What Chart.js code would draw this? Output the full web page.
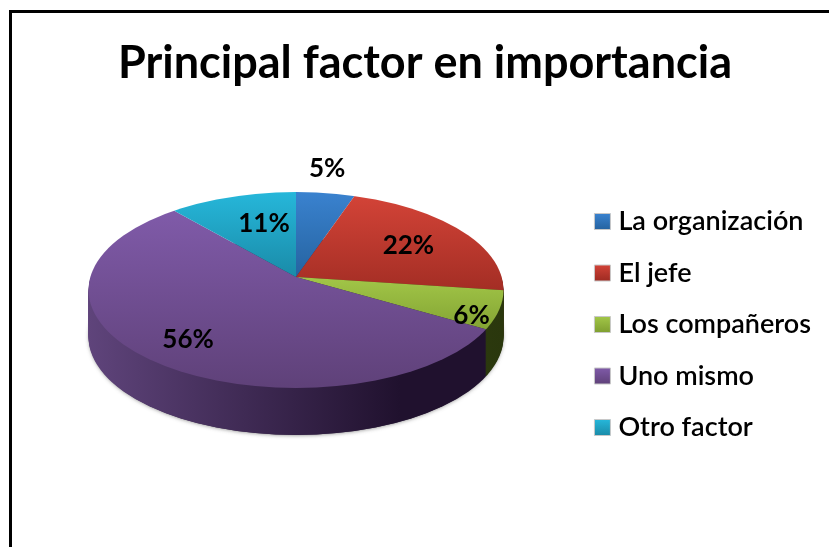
<!DOCTYPE html>
<html>
<head>
<meta charset="utf-8">
<title>Principal factor en importancia</title>
<script src="https://cdn.jsdelivr.net/npm/chart.js@4"></script>
<style>
	html, body { margin: 0; padding: 0; background: #fff; overflow: hidden; }
	#wrap { position: relative; width: 829px; height: 547px; }
	#frame { position: absolute; left: 9px; top: 10px; right: 0; bottom: 0; border-left: 3px solid #000; border-top: 3px solid #000; }
	canvas { position: absolute; left: 0; top: 0; }
</style>
</head>
<body>
<div id="wrap">
	<div id="frame"></div>
	<canvas id="chart-1" width="829" height="547"></canvas>
</div>
<script>
/* ----- Data ----- */

const chartTitle = 'Principal factor en importancia';
const categories = ['La organización', 'El jefe', 'Los compañeros', 'Uno mismo', 'Otro factor'];
const shares = [5, 22, 6, 56, 11];

/* ----- Styles ----- */

const topLight = ['#3a82cf', '#d24337', '#a2c648', '#7f5aa8', '#26b7da'];
const topDark = ['#2563a0', '#9e2b22', '#7f9f30', '#5f4179', '#1a8ba8'];
const sideLight = ['#1d4a78', '#6e1e18', '#45561a', '#5f447b', '#126478'];
const sideDark = ['#143352', '#4c1410', '#2a370d', '#20112e', '#0c4452'];
const labelRadius = [242, 132, 192, 166, 122];
const labelAngleShift = [-0.028, 0.014, 0.103, 0.017, 0.08];

// 3D look of the pie, the library's arcs get squashed onto this
const pie = {
	x: 296, y: 277,        // where the slices meet
	rimX: 296, rimY: 290,  // centre of the outer rim
	rimW: 207.5, rimH: 98,
	depth: 47,
	size: 280,
	squashTop: 0.45,
	squashBottom: 0.5
};

/* ----- 3D Pie Plugin ----- */

// Top part or bottom part of the rim, moved down by drop
const clipRim = (ctx, drop, part) => {
	const splitY = pie.y + drop;
	ctx.beginPath();
	if (part === 'top') ctx.rect(0, 0, 829, splitY);
	else ctx.rect(0, splitY, 829, 547 - splitY);
	ctx.clip();
	ctx.beginPath();
	ctx.ellipse(pie.rimX, pie.rimY + drop, pie.rimW, pie.rimH, 0, 0, Math.PI * 2);
	ctx.clip();
};

const drawArcs = (ctx, arcs, drop, part, fillFor) => {
	const first = arcs[0];
	const scaleX = pie.size / first.outerRadius;
	const squash = part === 'top' ? pie.squashTop : pie.squashBottom;
	const scaleY = scaleX * squash;
	ctx.save();
	clipRim(ctx, drop, part);
	ctx.translate(pie.x, pie.y + drop);
	ctx.scale(scaleX, scaleY);
	ctx.translate(-first.x, -first.y);
	// gradients follow the current transform, so work out their ends in arc space
	const toArcX = x => first.x + (x - pie.x) / scaleX;
	const toArcY = y => first.y + (y - pie.y - drop) / scaleY;
	arcs.forEach((arc, index) => {
		const saved = arc.options;
		const opts = Object.create(saved);
		opts.backgroundColor = fillFor(ctx, index, toArcX, toArcY);
		opts.borderWidth = 0;
		arc.options = opts;
		arc.draw(ctx);
		arc.options = saved;
	});
	ctx.restore();
};

// Vertical extent of a slice on the top face
const sliceExtent = arc => {
	let low = pie.y;
	let high = pie.y;
	for (let i = 0; i <= 24; i++) {
		const angle = arc.startAngle + (arc.endAngle - arc.startAngle) * i / 24;
		const sin = Math.sin(angle);
		const y = pie.rimY + sin * pie.rimH;
		low = Math.min(low, y);
		high = Math.max(high, y);
	}
	return [low, high];
};

const pie3d = {
	id: 'pie3d',
	beforeDraw(chart) {
		// legend swatches get the same top to bottom shading
		chart.legend.legendItems.forEach((item, index) => {
			const box = chart.legend.legendHitBoxes[index];
			const middle = box.top + box.height / 2;
			const grad = chart.ctx.createLinearGradient(0, middle - 8, 0, middle + 8);
			grad.addColorStop(0, topLight[index]);
			grad.addColorStop(1, topDark[index]);
			item.fillStyle = grad;
			item.strokeStyle = '#c8c8c8';
			item.lineWidth = 1;
		});
	},
	beforeDatasetsDraw(chart) {
		const ctx = chart.ctx;
		const arcs = chart.getDatasetMeta(0).data;

		// soft edge under the side wall
		ctx.save();
		ctx.shadowColor = 'rgba(60, 60, 60, 0.7)';
		ctx.shadowBlur = 4;
		ctx.fillStyle = '#3a2a4a';
		ctx.beginPath();
		ctx.ellipse(pie.rimX, pie.rimY + pie.depth, pie.rimW - 1, pie.rimH, 0, 0, Math.PI * 2);
		ctx.fill();
		ctx.restore();

		// side wall
		const sideFill = (c, index, toArcX) => {
			const grad = c.createLinearGradient(toArcX(88), 0, toArcX(index === 3 ? 400 : 503), 0);
			grad.addColorStop(0, sideLight[index]);
			grad.addColorStop(1, sideDark[index]);
			return grad;
		};
		for (let drop = pie.depth; drop >= 1; drop--) {
			drawArcs(ctx, arcs, drop, 'bottom', sideFill);
		}

		// top face
		const topFill = (c, index, toArcX, toArcY) => {
			const extent = sliceExtent(arcs[index]);
			const grad = c.createLinearGradient(0, toArcY(extent[0]), 0, toArcY(extent[1]));
			grad.addColorStop(0, topLight[index]);
			grad.addColorStop(1, topDark[index]);
			return grad;
		};
		drawArcs(ctx, arcs, 0, 'top', topFill);
		drawArcs(ctx, arcs, 0, 'bottom', topFill);

		// percentage labels
		ctx.save();
		ctx.font = 'bold 26px Lato';
		ctx.fillStyle = '#000';
		ctx.textAlign = 'center';
		ctx.textBaseline = 'middle';
		arcs.forEach((arc, index) => {
			const angle = (arc.startAngle + arc.endAngle) / 2 + labelAngleShift[index];
			const sin = Math.sin(angle);
			const x = pie.x + Math.cos(angle) * labelRadius[index];
			const y = pie.y + sin * labelRadius[index] * (sin > 0 ? pie.squashBottom : pie.squashTop);
			ctx.fillText(shares[index] + '%', x, y);
		});
		ctx.restore();
		return false;
	}
};

/* ----- Define Chart ----- */

new Chart(document.getElementById('chart-1'), {
	type: 'pie',
	data: {
		labels: categories,
		datasets: [{
			data: shares,
			backgroundColor: topLight,
			borderWidth: 0
		}]
	},
	options: {
		responsive: false,
		animation: false,
		events: [],
		layout: {
			padding: { left: 29, right: 8 }
		},
		plugins: {
			title: {
				display: true,
				text: chartTitle,
				color: '#000',
				font: { family: 'Lato', size: 45, weight: 'bold' },
				padding: { top: 36, bottom: 12 }
			},
			legend: {
				position: 'right',
				fullSize: false,
				labels: {
					usePointStyle: true,
					pointStyle: 'rect',
					boxWidth: 5,
					boxHeight: 16,
					padding: 24.5,
					color: '#000',
					font: { family: 'Lato', size: 27, weight: '600' }
				}
			},
			tooltip: { enabled: false }
		}
	},
	plugins: [pie3d]
});
</script>
</body>
</html>
